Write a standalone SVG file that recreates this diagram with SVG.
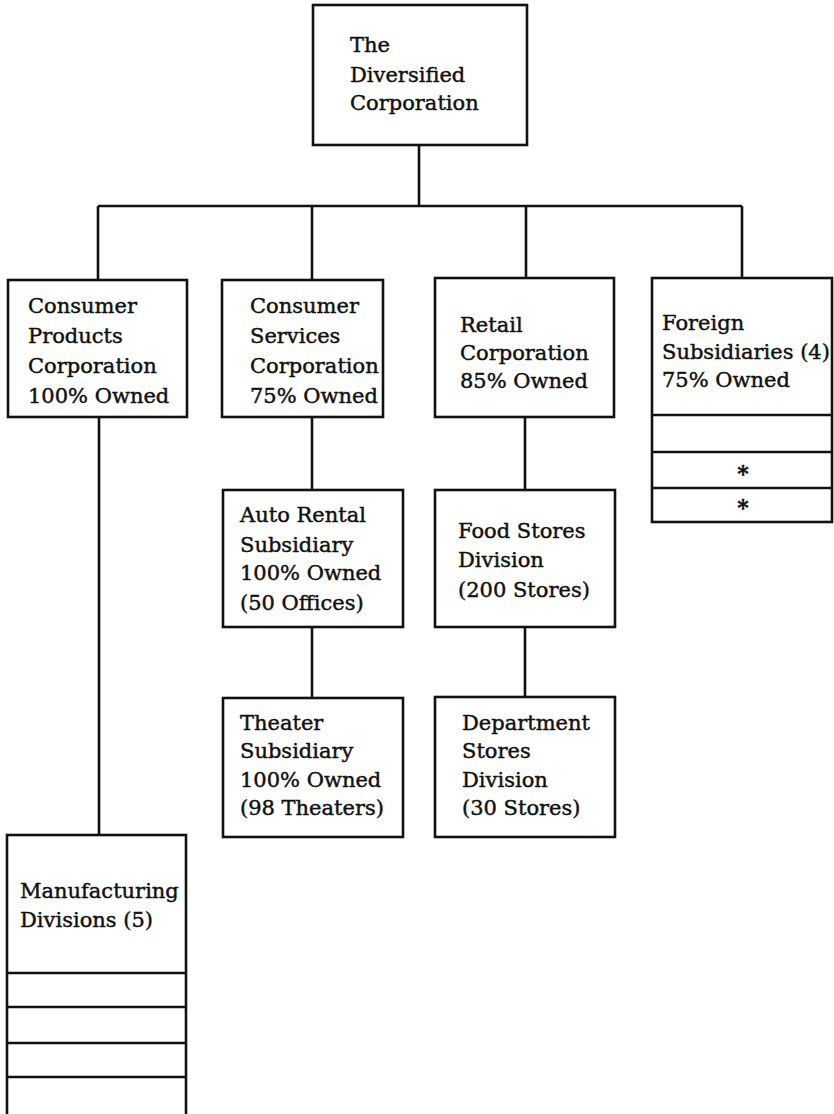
<svg xmlns="http://www.w3.org/2000/svg" width="834" height="1114" viewBox="0 0 834 1114">
<style>
.box{fill:#fff;stroke:#111;stroke-width:2.6}
.div{stroke:#111;stroke-width:2.6;fill:none}
.con{stroke:#111;stroke-width:2.6;fill:none}
text{font-family:"DejaVu Serif","Liberation Serif",serif;font-size:21px;fill:#111;stroke:#111;stroke-width:0.45}
.ast{font-size:22px;text-anchor:middle;font-weight:bold}
</style>
<rect width="834" height="1114" fill="#fff"/>
<g id="connectors">
<path class="con" d="M419 145V206M98 206H742M98 206V280M312 206V280M526 206V278M742 206V278"/>
<path class="con" d="M312 417V490M312 627V698"/>
<path class="con" d="M525 417V490M525 627V697"/>
<path class="con" d="M99 417V835"/>
</g>
<g id="top">
<rect class="box" x="313" y="5" width="214" height="140"/>
<text x="350" y="52">The</text>
<text x="350" y="82">Diversified</text>
<text x="350" y="110">Corporation</text>
</g>
<g id="consumer-products">
<rect class="box" x="8" y="280" width="179" height="137"/>
<text x="28" y="313">Consumer</text>
<text x="28" y="343">Products</text>
<text x="28" y="373">Corporation</text>
<text x="28" y="403">100% Owned</text>
</g>
<g id="consumer-services">
<rect class="box" x="222" y="280" width="161" height="137"/>
<text x="250" y="313">Consumer</text>
<text x="250" y="343">Services</text>
<text x="250" y="373">Corporation</text>
<text x="250" y="403">75% Owned</text>
</g>
<g id="retail">
<rect class="box" x="435" y="278" width="179" height="139"/>
<text x="460" y="332">Retail</text>
<text x="460" y="360">Corporation</text>
<text x="460" y="388">85% Owned</text>
</g>
<g id="foreign">
<rect class="box" x="652" y="278" width="180" height="244"/>
<path class="div" d="M652 415H832M652 452H832M652 488H832"/>
<text x="662" y="330">Foreign</text>
<text x="662" y="359">Subsidiaries (4)</text>
<text x="662" y="387">75% Owned</text>
<text class="ast" x="743" y="481">*</text>
<text class="ast" x="743" y="515">*</text>
</g>
<g id="auto-rental">
<rect class="box" x="223" y="490" width="180" height="137"/>
<text x="240" y="522">Auto Rental</text>
<text x="240" y="552">Subsidiary</text>
<text x="240" y="580">100% Owned</text>
<text x="240" y="610">(50 Offices)</text>
</g>
<g id="food-stores">
<rect class="box" x="435" y="490" width="180" height="137"/>
<text x="458" y="538">Food Stores</text>
<text x="458" y="567">Division</text>
<text x="458" y="597">(200 Stores)</text>
</g>
<g id="theater">
<rect class="box" x="223" y="698" width="180" height="139"/>
<text x="240" y="730">Theater</text>
<text x="240" y="758">Subsidiary</text>
<text x="240" y="787">100% Owned</text>
<text x="240" y="815">(98 Theaters)</text>
</g>
<g id="department-stores">
<rect class="box" x="435" y="697" width="180" height="140"/>
<text x="462" y="730">Department</text>
<text x="462" y="758">Stores</text>
<text x="462" y="787">Division</text>
<text x="462" y="815">(30 Stores)</text>
</g>
<g id="manufacturing">
<rect class="box" x="7" y="835" width="179" height="285"/>
<path class="div" d="M7 973H186M7 1007H186M7 1043H186M7 1077H186"/>
<text x="20" y="898">Manufacturing</text>
<text x="20" y="927">Divisions (5)</text>
</g>
</svg>
